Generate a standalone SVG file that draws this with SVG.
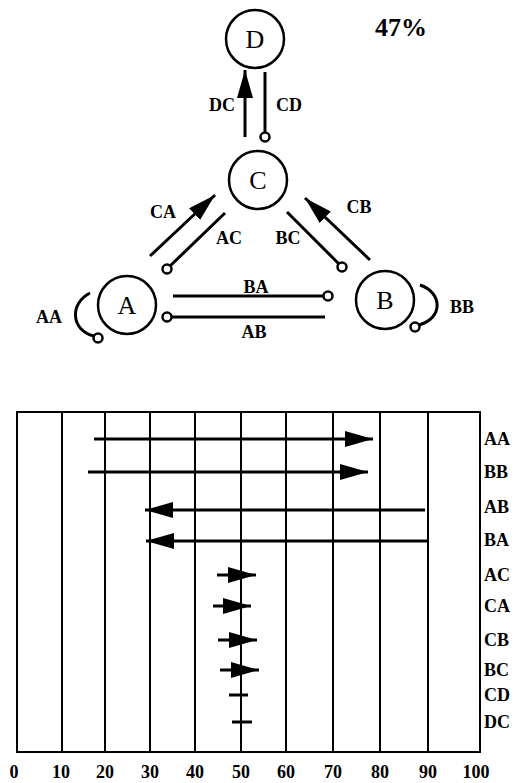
<svg xmlns="http://www.w3.org/2000/svg" width="516" height="783" viewBox="0 0 516 783">
<style>
.t{font-family:"Liberation Serif",serif;font-weight:bold;font-size:18px;fill:#000}
.n{font-family:"Liberation Serif",serif;font-size:26px;fill:#000}
.c{fill:none;stroke:#000;stroke-width:2.5}
.ln{fill:none;stroke:#000;stroke-width:3}
.g{fill:none;stroke:#000;stroke-width:2}
.dot{fill:#fff;stroke:#000;stroke-width:2.5}
</style>
<defs>
<marker id="ah" markerUnits="userSpaceOnUse" markerWidth="30" markerHeight="18" refX="28" refY="8" orient="auto">
<path d="M0,0 L28,8 L0,16 Z" fill="#000"/>
</marker>
</defs>
<rect width="516" height="783" fill="#fff"/>
<text class="t" x="375" y="36" style="font-size:26px">47%</text>
<g id="D"><circle class="c" cx="255" cy="39" r="29"/><text class="n" x="255" y="48" text-anchor="middle">D</text></g>
<g id="C"><circle class="c" cx="258" cy="180" r="29"/><text class="n" x="258" y="189" text-anchor="middle">C</text></g>
<g id="A"><circle class="c" cx="127" cy="305" r="29"/><text class="n" x="127" y="314" text-anchor="middle">A</text></g>
<g id="B"><circle class="c" cx="385" cy="300" r="29"/><text class="n" x="385" y="309" text-anchor="middle">B</text></g>
<g id="connectors">
<line class="ln" x1="245" y1="137" x2="245" y2="70" marker-end="url(#ah)"/>
<line class="ln" x1="265" y1="72" x2="265" y2="132"/><circle class="dot" cx="265" cy="137" r="4.5"/>
<line class="ln" x1="150" y1="256" x2="215" y2="195" marker-end="url(#ah)"/>
<line class="ln" x1="225" y1="213" x2="170" y2="266"/><circle class="dot" cx="167" cy="269" r="4.5"/>
<line class="ln" x1="370" y1="260" x2="305" y2="198" marker-end="url(#ah)"/>
<line class="ln" x1="287" y1="212" x2="339" y2="264"/><circle class="dot" cx="342" cy="267" r="4.5"/>
<line class="ln" x1="173" y1="296" x2="323" y2="296"/><circle class="dot" cx="328" cy="296" r="4.5"/>
<line class="ln" x1="172" y1="317" x2="325" y2="317"/><circle class="dot" cx="167" cy="317" r="4.5"/>
<path class="ln" d="M90,293 C70,303 70,330 94,336"/><circle class="dot" cx="98" cy="338" r="4.5"/>
<path class="ln" d="M420,285 C442,292 444,318 419,325"/><circle class="dot" cx="415" cy="327" r="4.5"/>
</g>
<g id="labels">
<text class="t" x="222" y="111" text-anchor="middle">DC</text>
<text class="t" x="289" y="111" text-anchor="middle">CD</text>
<text class="t" x="163" y="218" text-anchor="middle">CA</text>
<text class="t" x="229" y="244" text-anchor="middle">AC</text>
<text class="t" x="359" y="213" text-anchor="middle">CB</text>
<text class="t" x="288" y="244" text-anchor="middle">BC</text>
<text class="t" x="256" y="293" text-anchor="middle">BA</text>
<text class="t" x="254" y="338" text-anchor="middle">AB</text>
<text class="t" x="49" y="323" text-anchor="middle">AA</text>
<text class="t" x="462" y="313" text-anchor="middle">BB</text>
</g>
<g id="chart">
<rect class="g" x="17" y="412" width="463" height="340"/>
<line class="g" x1="62" y1="412" x2="62" y2="752"/>
<line class="g" x1="105" y1="412" x2="105" y2="752"/>
<line class="g" x1="150" y1="412" x2="150" y2="752"/>
<line class="g" x1="195" y1="412" x2="195" y2="752"/>
<line class="g" x1="241" y1="412" x2="241" y2="752"/>
<line class="g" x1="286" y1="412" x2="286" y2="752"/>
<line class="g" x1="333" y1="412" x2="333" y2="752"/>
<line class="g" x1="380" y1="412" x2="380" y2="752"/>
<line class="g" x1="428" y1="412" x2="428" y2="752"/>
<line class="ln" x1="94" y1="439" x2="373" y2="439" marker-end="url(#ah)"/>
<line class="ln" x1="88" y1="472" x2="368" y2="472" marker-end="url(#ah)"/>
<line class="ln" x1="425" y1="510" x2="145" y2="510" marker-end="url(#ah)"/>
<line class="ln" x1="427" y1="541" x2="146" y2="541" marker-end="url(#ah)"/>
<line class="ln" x1="217" y1="575" x2="256" y2="575" marker-end="url(#ah)"/>
<line class="ln" x1="213" y1="606" x2="251" y2="606" marker-end="url(#ah)"/>
<line class="ln" x1="218" y1="640" x2="257" y2="640" marker-end="url(#ah)"/>
<line class="ln" x1="220" y1="670" x2="259" y2="670" marker-end="url(#ah)"/>
<line class="ln" x1="229" y1="695" x2="248" y2="695"/>
<line class="ln" x1="232" y1="722" x2="252" y2="722"/>
</g>
<g id="rowlabels">
<text class="t" x="484" y="445">AA</text>
<text class="t" x="484" y="478">BB</text>
<text class="t" x="484" y="513">AB</text>
<text class="t" x="484" y="546">BA</text>
<text class="t" x="484" y="581">AC</text>
<text class="t" x="484" y="612">CA</text>
<text class="t" x="484" y="646">CB</text>
<text class="t" x="484" y="676">BC</text>
<text class="t" x="484" y="701">CD</text>
<text class="t" x="484" y="728">DC</text>
</g>
<g id="axis">
<text class="t" x="14" y="778" text-anchor="middle">0</text>
<text class="t" x="61" y="778" text-anchor="middle">10</text>
<text class="t" x="105" y="778" text-anchor="middle">20</text>
<text class="t" x="150" y="778" text-anchor="middle">30</text>
<text class="t" x="195" y="778" text-anchor="middle">40</text>
<text class="t" x="241" y="778" text-anchor="middle">50</text>
<text class="t" x="286" y="778" text-anchor="middle">60</text>
<text class="t" x="333" y="778" text-anchor="middle">70</text>
<text class="t" x="380" y="778" text-anchor="middle">80</text>
<text class="t" x="428" y="778" text-anchor="middle">90</text>
<text class="t" x="476" y="778" text-anchor="middle">100</text>
</g>
</svg>
